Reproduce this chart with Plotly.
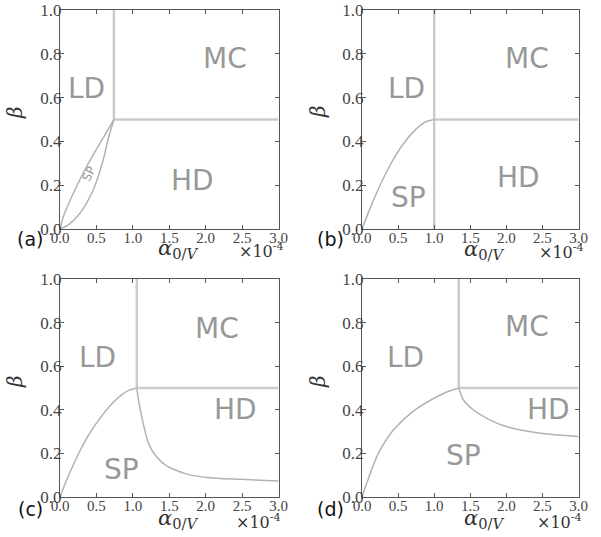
import plotly.graph_objects as go

# ---------------- data ----------------
x_ticks = [0.0, 0.5, 1.0, 1.5, 2.0, 2.5, 3.0]
y_ticks = [0.0, 0.2, 0.4, 0.6, 0.8, 1.0]
panel_names = ["(a)", "(b)", "(c)", "(d)"]

# triple-point (corner) positions on alpha axis for each panel
corner_x = [0.74, 1.0, 1.055, 1.34]
corner_y = [0.5, 0.5, 0.5, 0.5]
x_max = 3.0
vert_bottom = [0.5, 0.0, 0.5, 0.5]

# panel (a): SP lens
a_up_x = [0.0, 0.05, 0.183, 0.365, 0.548, 0.74]
a_up_y = [0.0, 0.06, 0.163, 0.285, 0.391, 0.5]
a_lo_x = [0.0, 0.12, 0.274, 0.456, 0.593, 0.66, 0.74]
a_lo_y = [0.0, 0.02, 0.072, 0.178, 0.315, 0.41, 0.5]

# panel (b): LD/SP boundary
b_x = [0.0, 0.1, 0.2, 0.3, 0.4, 0.5, 0.6, 0.7, 0.8, 0.9, 1.0]
b_y = [0.0, 0.085, 0.163, 0.234, 0.298, 0.354, 0.401, 0.440, 0.471, 0.492, 0.5]

# panel (c)
c_left_x = [0.0, 0.1, 0.25, 0.4, 0.55, 0.7, 0.85, 0.95, 1.055]
c_left_y = [0.0, 0.085, 0.195, 0.288, 0.362, 0.423, 0.47, 0.49, 0.5]
c_right_x = [1.055, 1.077, 1.132, 1.215, 1.307, 1.444, 1.559, 1.743, 2.018, 2.476, 3.0]
c_right_y = [0.5, 0.445, 0.353, 0.246, 0.193, 0.147, 0.127, 0.105, 0.090, 0.081, 0.073]

# panel (d)
d_left_x = [0.0, 0.065, 0.227, 0.435, 0.736, 1.037, 1.2, 1.34]
d_left_y = [0.0, 0.063, 0.2, 0.307, 0.4, 0.46, 0.485, 0.5]
d_right_x = [1.34, 1.407, 1.546, 1.778, 2.01, 2.472, 3.0]
d_right_y = [0.5, 0.445, 0.399, 0.353, 0.322, 0.292, 0.277]

# region labels: (text, x, y) per panel
region_labels = [
    [("MC", 2.27, 0.78), ("LD", 0.37, 0.64), ("HD", 1.82, 0.22)],
    [("MC", 2.28, 0.78), ("LD", 0.61, 0.64), ("SP", 0.64, 0.146), ("HD", 2.17, 0.233)],
    [("MC", 2.16, 0.775), ("LD", 0.51, 0.64), ("HD", 2.41, 0.40), ("SP", 0.85, 0.124)],
    [("MC", 2.29, 0.78), ("LD", 0.60, 0.64), ("HD", 2.58, 0.40), ("SP", 1.40, 0.19)],
]

# ---------------- layout geometry ----------------
W, H = 601, 537

def fx(p):
    return p / W

def fy(p):
    return 1 - p / H

x_dom = [(fx(60), fx(278.5)), (fx(362), fx(578.5)), (fx(60), fx(278.5)), (fx(362), fx(578.5))]
y_dom = [(fy(229), fy(10)), (fy(229), fy(10)), (fy(497), fy(279)), (fy(497), fy(279))]
# pixel anchors for decorations (centres)
letter_px = [(30, 239), (330, 239), (30, 509), (330, 509)]
xlab_px = [(178, 249), (484, 250), (178, 519), (484, 519)]
mult_px = [(261, 250), (561, 251), (258, 521), (559, 521)]
beta_px = [(15, 113), (318, 112), (15, 382), (318, 382)]

STRAIGHT = dict(color="#cbcbcb", width=2.5)
CURVE = dict(color="#b2b2b2", width=1.5)
LABEL_COLOR = "#989898"

fig = go.Figure()
annotations = []

curves = [
    [(a_up_x, a_up_y), (a_lo_x, a_lo_y)],
    [(b_x, b_y)],
    [(c_left_x, c_left_y), (c_right_x, c_right_y)],
    [(d_left_x, d_left_y), (d_right_x, d_right_y)],
]

def paper_note(text, p, font, **kw):
    return dict(text=text, x=fx(p[0]), y=fy(p[1]), xref="paper", yref="paper",
                xanchor="center", yanchor="middle", showarrow=False, font=font, **kw)

for i in range(4):
    xa = "x" if i == 0 else f"x{i+1}"
    ya = "y" if i == 0 else f"y{i+1}"
    fig.add_trace(go.Scatter(x=[corner_x[i], corner_x[i]], y=[vert_bottom[i], 1.0],
                             mode="lines", line=STRAIGHT, xaxis=xa, yaxis=ya,
                             showlegend=False, hoverinfo="skip"))
    fig.add_trace(go.Scatter(x=[corner_x[i], x_max], y=[corner_y[i], corner_y[i]],
                             mode="lines", line=STRAIGHT, xaxis=xa, yaxis=ya,
                             showlegend=False, hoverinfo="skip"))
    for cx, cy in curves[i]:
        fig.add_trace(go.Scatter(x=cx, y=cy, mode="lines",
                                 line=dict(CURVE, shape="spline", smoothing=0.8),
                                 xaxis=xa, yaxis=ya, showlegend=False, hoverinfo="skip"))
    for txt, lx, ly in region_labels[i]:
        annotations.append(dict(text=txt, x=lx, y=ly, xref=xa, yref=ya, showarrow=False,
                                xanchor="center", yanchor="middle",
                                font=dict(family="DejaVu Sans", size=28, color=LABEL_COLOR)))
    annotations.append(paper_note(panel_names[i], letter_px[i],
                                  dict(family="DejaVu Sans", size=19, color="#111")))
    annotations.append(paper_note("<i>α</i><sub>0/<i>V</i></sub>", xlab_px[i],
                                  dict(family="DejaVu Serif", size=21, color="#333")))
    annotations.append(paper_note("×10<sup>-4</sup>", mult_px[i],
                                  dict(family="DejaVu Serif", size=16, color="#333")))
    annotations.append(paper_note("<i>β</i>", beta_px[i],
                                  dict(family="DejaVu Serif", size=20, color="#333"),
                                  textangle=-90))

annotations.append(dict(text="SP", x=0.40, y=0.25, xref="x", yref="y", showarrow=False,
                        textangle=-64, xanchor="center", yanchor="middle",
                        font=dict(family="DejaVu Sans", size=12, color=LABEL_COLOR)))

axis_common = dict(showgrid=False, zeroline=False, showline=True, linecolor="#555",
                   linewidth=1, mirror="ticks", ticks="inside", ticklen=4, tickcolor="#555",
                   automargin=False, ticklabeloverflow="allow")
layout = dict(width=W, height=H, margin=dict(l=0, r=0, t=0, b=0, autoexpand=False),
              template="none",
              paper_bgcolor="white", plot_bgcolor="white", annotations=annotations,
              showlegend=False)
for i in range(4):
    xk = "xaxis" if i == 0 else f"xaxis{i+1}"
    yk = "yaxis" if i == 0 else f"yaxis{i+1}"
    ya = "y" if i == 0 else f"y{i+1}"
    xa = "x" if i == 0 else f"x{i+1}"
    layout[xk] = dict(axis_common, domain=list(x_dom[i]), range=[0, x_max], anchor=ya,
                      tickvals=x_ticks, tickformat=".1f", ticklabelstandoff=-5,
                      tickfont=dict(family="Liberation Serif", size=15, color="#444"))
    layout[yk] = dict(axis_common, domain=list(y_dom[i]), range=[0, 1.0], anchor=xa,
                      tickvals=y_ticks, tickformat=".1f", ticklabelstandoff=-6,
                      tickfont=dict(family="Liberation Serif", size=17, color="#444"))
fig.update_layout(**layout)
fig.write_html("out.html", config={"displayModeBar": False, "staticPlot": True},
               post_script="document.body.style.margin='0';document.body.style.overflow='hidden';")
